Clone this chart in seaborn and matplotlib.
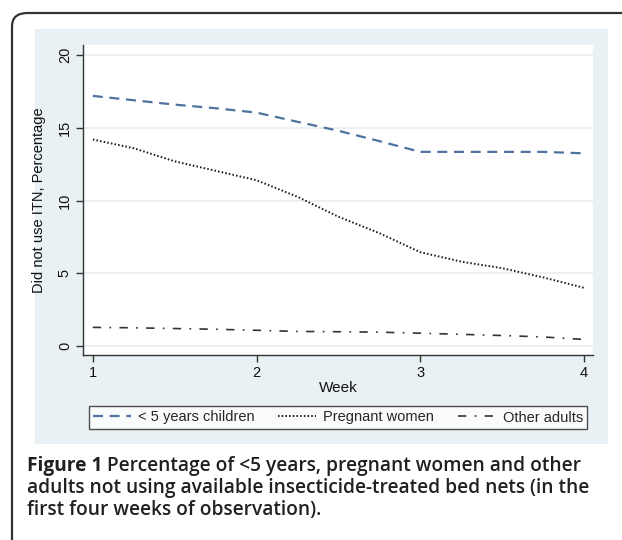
import pandas as pd
import matplotlib.pyplot as plt
import seaborn as sns
from matplotlib.patches import Rectangle, FancyBboxPatch

# Values
week = [1, 1.25, 1.5, 1.75, 2, 2.25, 2.5, 2.75, 3, 3.25, 3.5, 3.75, 4]
children = [17.2, 16.9, 16.6, 16.35, 16.05, 15.42, 14.8, 14.09, 13.35, 13.35, 13.35, 13.35, 13.25]
pregnant = [14.2, 13.6, 12.7, 12.05, 11.4, 10.26, 8.89, 7.76, 6.45, 5.8, 5.35, 4.72, 4.0]
others = [1.28, 1.25, 1.2, 1.15, 1.08, 1.0, 0.98, 0.95, 0.88, 0.8, 0.72, 0.62, 0.45]
labels = ["< 5 years children", "Pregnant women", "Other adults"]
yticks = [0, 5, 10, 15, 20]
xticks = [1, 2, 3, 4]

df = pd.DataFrame({"week": week, "children": children,
                   "pregnant": pregnant, "others": others})

sns.set_theme(style="white")
plt.rcParams['font.family'] = ['Liberation Sans', 'DejaVu Sans']

W, H = 622, 540
fig = plt.figure(figsize=(W / 100, H / 100), dpi=100)
fig.patch.set_facecolor("white")

# outer rounded frame and Stata-like background panel
fig.add_artist(FancyBboxPatch((12 / W, -0.05), 1.05, 1 - 13 / H + 0.05,
                              boxstyle="round,pad=0,rounding_size=0.025",
                              transform=fig.transFigure, fill=False,
                              edgecolor="#333333", linewidth=1.6, zorder=0))
fig.add_artist(Rectangle((35 / W, (H - 444) / H), 573 / W, 415 / H,
                         transform=fig.transFigure, facecolor="#eaf1f4",
                         edgecolor="none", zorder=0))

ax = fig.add_axes([83 / W, (H - 355) / H, 510 / W, 310 / H])
ax.set_facecolor("white")

sns.lineplot(data=df, x="week", y="children", ax=ax, color="#4f739e",
             linewidth=1.6, linestyle=(0, (4.5, 3)), label=labels[0])
sns.lineplot(data=df, x="week", y="pregnant", ax=ax, color="#1a1a1a",
             linewidth=1.4, linestyle=(0, (0.8, 1.1)), label=labels[1])
sns.lineplot(data=df, x="week", y="others", ax=ax, color="#333333",
             linewidth=1.2, linestyle=(0, (5, 5, 1, 5)), label=labels[2])

ax.set_xlim(0.94, 4.055)
ax.set_ylim(-0.62, 20.7)
ax.set_xticks(xticks)
ax.set_yticks(yticks)
ax.set_yticklabels([str(v) for v in yticks], rotation=90, va="center")
ax.grid(axis="y", color="#e6eef1", linewidth=1.2)
ax.grid(axis="x", visible=False)
ax.tick_params(axis="both", which="major", direction="out", length=5,
               width=1, color="#333333", labelsize=10.5, labelcolor="#111111",
               bottom=True, left=True, pad=3)
for s in ["top", "right"]:
    ax.spines[s].set_visible(False)
for s in ["left", "bottom"]:
    ax.spines[s].set_color("#333333")
    ax.spines[s].set_linewidth(1.0)

ax.set_xlabel("Week", fontsize=11, color="#111111", labelpad=1)
ax.set_ylabel("Did not use ITN, Percentage", fontsize=10.5, color="#111111")
ax.yaxis.set_label_coords(-0.072, 0.5)

ax.get_legend().remove()
handles, _ = ax.get_legend_handles_labels()
leg = fig.legend(handles, labels, loc="center", ncol=3,
                 bbox_to_anchor=(338 / W, (H - 417.5) / H), frameon=True,
                 fancybox=False, fontsize=10.5, handlelength=2.6,
                 columnspacing=1.6, handletextpad=0.5, borderpad=0.3)
leg.get_frame().set_edgecolor("#222222")
leg.get_frame().set_linewidth(1.0)
leg.get_frame().set_facecolor("white")

# caption
cap_kw = dict(fontsize=13.8, color="#231f20", family=["Open Sans", "DejaVu Sans"])
t1 = fig.text(27 / W, (H - 466) / H, "Figure 1", fontweight="bold",
              va="center", ha="left", **cap_kw)
ax.annotate(" Percentage of <5 years, pregnant women and other",
            xy=(1, 0.5), xycoords=t1, va="center", ha="left",
            fontweight="semibold", annotation_clip=False, **cap_kw)
fig.text(27 / W, (H - 488) / H,
         "adults not using available insecticide-treated bed nets (in the",
         fontweight="semibold", va="center", ha="left", **cap_kw)
fig.text(27 / W, (H - 510) / H, "first four weeks of observation).",
         fontweight="semibold", va="center", ha="left", **cap_kw)

fig.savefig("out.png", dpi=100)
